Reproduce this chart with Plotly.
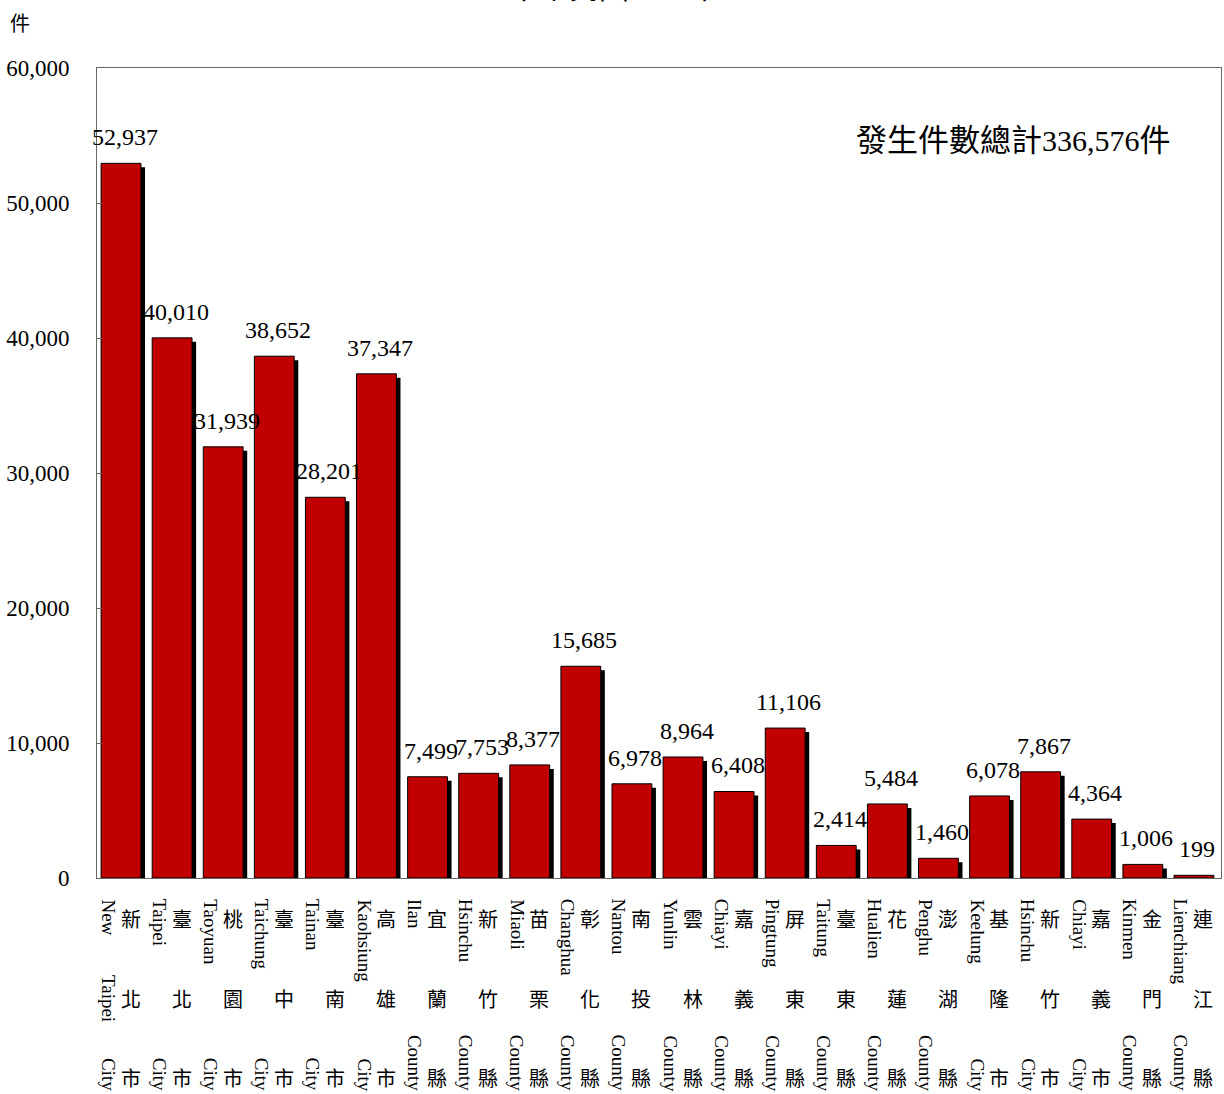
import plotly.graph_objects as go

# 113年 各縣市發生件數
place_en = ["New Taipei", "Taipei", "Taoyuan", "Taichung", "Tainan", "Kaohsiung",
            "Ilan", "Hsinchu", "Miaoli", "Changhua", "Nantou", "Yunlin", "Chiayi",
            "Pingtung", "Taitung", "Hualien", "Penghu", "Keelung", "Hsinchu",
            "Chiayi", "Kinmen", "Lienchiang"]
kind_en = ["City"] * 6 + ["County"] * 11 + ["City"] * 3 + ["County"] * 2
place_zh = ["新北市", "臺北市", "桃園市", "臺中市", "臺南市", "高雄市",
            "宜蘭縣", "新竹縣", "苗栗縣", "彰化縣", "南投縣", "雲林縣", "嘉義縣",
            "屏東縣", "臺東縣", "花蓮縣", "澎湖縣", "基隆市", "新竹市", "嘉義市",
            "金門縣", "連江縣"]
cases = [52937, 40010, 31939, 38652, 28201, 37347, 7499, 7753, 8377, 15685,
         6978, 8964, 6408, 11106, 2414, 5484, 1460, 6078, 7867, 4364, 1006, 199]
total_text = "發生件數總計336,576件"
title_text = "中華民國 113 年"

W, H = 1224, 1094
L, R, T, B = 97, 3, 68, 216
plot_w = W - L - R
plot_h = H - T - B
SERIF = "Liberation Serif, Times New Roman, serif"
CJK = "Noto Sans CJK TC"


def py(pix):
    # pixel row -> paper y
    return (H - B - pix) / plot_h


def px(pix):
    # pixel column -> paper x
    return (pix - L) / plot_w


idx = list(range(len(cases)))
shadow_dy = 4 * 60000 / plot_h

fig = go.Figure()
fig.add_trace(go.Bar(x=idx, y=cases, base=-shadow_dy, width=0.78, offset=-0.34,
                     marker=dict(color="black", line=dict(width=0)),
                     hoverinfo="skip"))
fig.add_trace(go.Bar(x=idx, y=cases, width=0.78, offset=-0.42,
                     marker=dict(color="#C00000", line=dict(color="black", width=1))))

ann = []
for i, v in enumerate(cases):
    ann.append(dict(x=i, y=v, xref="x", yref="y", text=f"{v:,}", showarrow=False,
                    xshift=2, yshift=11, yanchor="bottom",
                    font=dict(family=SERIF, size=24, color="black")))
    words = place_en[i].split(" ")
    ann.append(dict(x=i, y=py(897), xref="x", yref="paper", text=words[0],
                    textangle=90, showarrow=False, xshift=-14,
                    xanchor="center", yanchor="top",
                    font=dict(family=SERIF, size=19, color="black")))
    if len(words) > 1:
        ann.append(dict(x=i, y=py(973), xref="x", yref="paper", text=words[1],
                        textangle=90, showarrow=False, xshift=-14,
                        xanchor="center", yanchor="top",
                        font=dict(family=SERIF, size=19, color="black")))
    ann.append(dict(x=i, y=py(1093), xref="x", yref="paper", text=kind_en[i],
                    textangle=90, showarrow=False, xshift=-14,
                    xanchor="center", yanchor="bottom",
                    font=dict(family=SERIF, size=19, color="black")))
    for k, ch in enumerate(place_zh[i]):
        ann.append(dict(x=i, y=py([918, 998, 1077][k]), xref="x", yref="paper",
                        text=ch, showarrow=False, xshift=8,
                        xanchor="center", yanchor="middle",
                        font=dict(family=CJK, size=20, color="black")))

ann.append(dict(x=px(1013), y=py(140), xref="paper", yref="paper",
                xanchor="center", yanchor="middle", showarrow=False,
                text=total_text.replace("336,576", "<span style='font-size:30px'>336,576</span>"),
                font=dict(family=SERIF + ", " + CJK, size=31, color="black")))
ann.append(dict(x=px(20), y=py(22), xref="paper", yref="paper",
                xanchor="center", yanchor="middle", showarrow=False,
                text="件", font=dict(family=CJK, size=20, color="black")))
ann.append(dict(x=px(613), y=py(6), xref="paper", yref="paper",
                xanchor="center", yanchor="bottom", showarrow=False,
                text=title_text, font=dict(family=SERIF + ", " + CJK, size=30, color="black")))

fig.update_layout(
    width=W, height=H,
    margin=dict(l=L, r=R, t=T, b=B),
    paper_bgcolor="white", plot_bgcolor="white",
    barmode="overlay", showlegend=False, hovermode=False,
    annotations=ann,
    xaxis=dict(range=[-0.5, len(cases) - 0.5], showticklabels=False, ticks="",
               showgrid=False, zeroline=False, showline=True, linecolor="#666666",
               linewidth=1, mirror=True),
    yaxis=dict(range=[0, 60000], dtick=10000, tickformat=",", ticks="inside",
               ticklen=5, tickcolor="#666666", showgrid=False, zeroline=False,
               showline=True, linecolor="#666666", linewidth=1, mirror=True,
               ticklabelstandoff=22,
               tickfont=dict(family=SERIF, size=23, color="black")),
)

# page margin off so the figure sits at the window's top-left corner
fig.write_html("out.html", config={"displayModeBar": False},
               post_script="document.body.style.margin='0';document.body.style.overflow='hidden';")
